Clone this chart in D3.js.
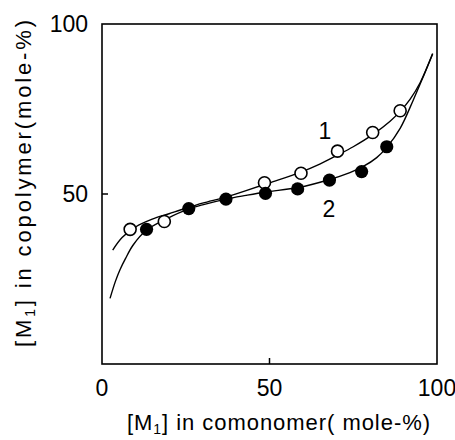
<!doctype html>
<html lang="en">
  <head>
    <meta charset="UTF-8" />
    <title>Copolymer composition curve</title>
    <script src="https://d3js.org/d3.v7.min.js"></script>
    <style>
      body {
        margin: 0;
        background: #fff;
      }
      svg text {
        font-family: 'Liberation Sans', Arial, sans-serif;
        fill: #000;
      }
      .tick-label {
        font-size: 23px;
      }
      .axis-title {
        font-size: 22px;
      }
      .curve {
        fill: none;
        stroke: #000;
        stroke-width: 1.4;
      }
    </style>
  </head>
  <body>
    <svg id="chart"></svg>
    <script>
      // Data
      const xTicks = [0, 50, 100]
      const yTicks = [50, 100]

      // series 1, open circles
      const open1 = [
        [8.4, 39.6], [18.6, 41.9], [48.5, 53.3], [59.4, 56.1],
        [70.3, 62.6], [80.8, 68.1], [89.0, 74.5],
      ]
      // series 2, filled circles
      const filled2 = [
        [13.3, 39.6], [25.9, 45.7], [37.0, 48.5], [48.8, 50.2],
        [58.4, 51.5], [67.9, 54.1], [77.5, 56.6], [85.0, 63.9],
      ]
      // fitted curves
      const curve1 = [
        [3.2, 33.5], [6, 37.2], [10, 40.3], [15, 42.6], [20, 44.2], [25, 45.8],
        [30, 47.3], [37, 49.1], [43, 51], [50, 53.3], [59, 56.3], [65, 58.8],
        [70, 61.3], [75, 63.9], [81, 67.6], [86, 71.4], [89, 74.3], [92, 77.9],
        [95, 82.8], [98.7, 91.3],
      ]
      const curve2 = [
        [2.4, 19.3], [4, 24.3], [5.4, 27.8], [7, 31], [9.3, 35], [13.3, 39.4],
        [19.3, 42.7], [25.9, 45.6], [30, 46.8], [37, 48.5], [43, 49.6], [49, 50.6],
        [58.6, 51.9], [67.7, 54.2], [74, 56.3], [78, 58.1], [82, 60.7], [85, 63.7],
        [89, 69.3], [92.9, 77.6], [95.9, 84.5], [98.7, 91.2],
      ]

      const W = 455
      const H = 440
      const margin = { top: 24, right: 18, bottom: 76, left: 102 }
      const width = W - margin.left - margin.right
      const height = H - margin.top - margin.bottom

      const root = d3.select('#chart').attr('width', W).attr('height', H)
      const svg = root.append('g').attr('transform', `translate(${margin.left},${margin.top})`)

      const x = d3.scaleLinear().domain([0, 100]).range([0, width])
      const y = d3.scaleLinear().domain([0, 100]).range([height, 0])

      // frame
      svg
        .append('rect')
        .attr('width', width)
        .attr('height', height)
        .attr('fill', 'none')
        .attr('stroke', '#000')
        .attr('stroke-width', 1.6)

      // inward ticks at 50
      svg
        .append('line')
        .attr('x1', 0)
        .attr('x2', 6)
        .attr('y1', y(50))
        .attr('y2', y(50))
        .attr('stroke', '#000')
        .attr('stroke-width', 1.5)
      svg
        .append('line')
        .attr('x1', x(50))
        .attr('x2', x(50))
        .attr('y1', height)
        .attr('y2', height - 6)
        .attr('stroke', '#000')
        .attr('stroke-width', 1.5)

      // tick labels
      svg
        .selectAll('.xt')
        .data(xTicks)
        .enter()
        .append('text')
        .attr('class', 'tick-label')
        .attr('text-anchor', 'middle')
        .attr('x', (d) => x(d))
        .attr('y', height + 32)
        .text((d) => d)

      svg
        .selectAll('.yt')
        .data(yTicks)
        .enter()
        .append('text')
        .attr('class', 'tick-label')
        .attr('text-anchor', 'end')
        .attr('x', -14)
        .attr('y', (d) => y(d) + 8)
        .text((d) => d)

      // axis titles with subscript
      function title(sel, rest) {
        sel.append('tspan').text('[M')
        sel.append('tspan').attr('font-size', 14).attr('dy', 4).text('1')
        sel.append('tspan').attr('dy', -4).text(']')
        sel.append('tspan').text(rest)
      }

      svg
        .append('text')
        .attr('class', 'axis-title')
        .attr('x', 25)
        .attr('y', height + 66)
        .attr('textLength', 303)
        .attr('lengthAdjust', 'spacing')
        .call(title, ' in comonomer( mole-%)')

      svg
        .append('text')
        .attr('class', 'axis-title')
        .attr('transform', 'rotate(-90)')
        .attr('x', -323)
        .attr('y', -71)
        .attr('textLength', 327)
        .attr('lengthAdjust', 'spacing')
        .call(title, ' in copolymer(mole-%)')

      // curves
      const line = d3
        .line()
        .x((d) => x(d[0]))
        .y((d) => y(d[1]))
        .curve(d3.curveCatmullRom.alpha(0.5))

      svg.append('path').datum(curve1).attr('class', 'curve').attr('d', line)
      svg.append('path').datum(curve2).attr('class', 'curve').attr('d', line)

      // points
      svg
        .selectAll('.open')
        .data(open1)
        .enter()
        .append('circle')
        .attr('cx', (d) => x(d[0]))
        .attr('cy', (d) => y(d[1]))
        .attr('r', 6)
        .attr('fill', '#fff')
        .attr('stroke', '#000')
        .attr('stroke-width', 1.6)

      svg
        .selectAll('.filled')
        .data(filled2)
        .enter()
        .append('circle')
        .attr('cx', (d) => x(d[0]))
        .attr('cy', (d) => y(d[1]))
        .attr('r', 6.6)
        .attr('fill', '#000')

      // curve labels
      svg
        .append('text')
        .attr('class', 'tick-label')
        .attr('text-anchor', 'middle')
        .attr('x', x(66.5))
        .attr('y', y(68.5) + 8)
        .text('1')
      svg
        .append('text')
        .attr('class', 'tick-label')
        .attr('text-anchor', 'middle')
        .attr('x', x(67.7))
        .attr('y', y(45.7) + 8)
        .text('2')
    </script>
  </body>
</html>
